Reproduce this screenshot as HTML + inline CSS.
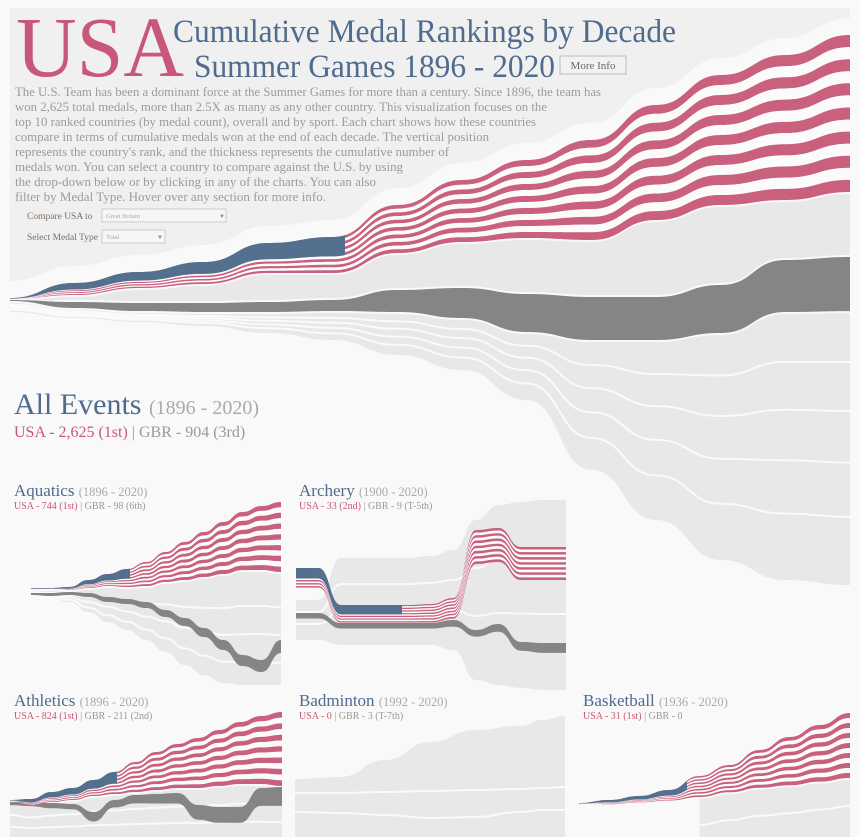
<!DOCTYPE html>
<html><head><meta charset="utf-8"><style>
html,body{margin:0;padding:0;background:#f9f9f9;}
svg{display:block;font-family:"Liberation Serif",serif;}
</style></head><body>
<svg id="s" width="860" height="837" viewBox="0 0 860 837" xmlns="http://www.w3.org/2000/svg">
<defs>
<clipPath id="cMain"><rect x="0" y="0" width="345" height="837"/></clipPath>
<clipPath id="cAq"><rect x="0" y="0" width="130" height="837"/></clipPath>
<clipPath id="cAr"><rect x="0" y="0" width="402" height="837"/></clipPath>
<clipPath id="cAt"><rect x="0" y="0" width="117" height="837"/></clipPath>
<clipPath id="cBk"><rect x="0" y="0" width="687" height="837"/></clipPath>
</defs>
<rect x="10" y="8" width="840" height="300" fill="#f0f0f0"/>
<g id="mainChart"></g>
<g id="panels"></g>
<g>
<text x="16" y="76" font-size="86" fill="#c8577a" textLength="168" lengthAdjust="spacingAndGlyphs">USA</text>
<text x="173" y="42" font-size="33" fill="#4f6b8d" textLength="503" lengthAdjust="spacingAndGlyphs">Cumulative Medal Rankings by Decade</text>
<text x="194" y="77" font-size="33" fill="#4f6b8d" textLength="361" lengthAdjust="spacingAndGlyphs">Summer Games 1896 - 2020</text>
<g>
<rect x="560" y="56" width="66" height="18" fill="#f2f2f2" stroke="#bbb"/>
<text x="593" y="69" font-size="11" fill="#666" text-anchor="middle">More Info</text>
</g>
<g font-size="13" fill="#9b9b9b">
<text x="15" y="96" textLength="586" lengthAdjust="spacingAndGlyphs">The U.S. Team has been a dominant force at the Summer Games for more than a century. Since 1896, the team has</text>
<text x="15" y="111" textLength="532" lengthAdjust="spacingAndGlyphs">won 2,625 total medals, more than 2.5X as many as any other country. This visualization focuses on the</text>
<text x="15" y="126" textLength="521" lengthAdjust="spacingAndGlyphs">top 10 ranked countries (by medal count), overall and by sport. Each chart shows how these countries</text>
<text x="15" y="141" textLength="474" lengthAdjust="spacingAndGlyphs">compare in terms of cumulative medals won at the end of each decade. The vertical position</text>
<text x="15" y="156" textLength="434" lengthAdjust="spacingAndGlyphs">represents the country's rank, and the thickness represents the cumulative number of</text>
<text x="15" y="171" textLength="388" lengthAdjust="spacingAndGlyphs">medals won. You can select a country to compare against the U.S. by using</text>
<text x="15" y="186" textLength="361" lengthAdjust="spacingAndGlyphs">the drop-down below or by clicking in any of the charts. You can also</text>
<text x="15" y="201" textLength="311" lengthAdjust="spacingAndGlyphs">filter by Medal Type. Hover over any section for more info.</text>
</g>
<text x="27" y="219" font-size="9.5" fill="#7d6f63">Compare USA to</text>
<g>
<rect x="102" y="209" width="124" height="13" fill="#f6f6f6" stroke="#ccc"/>
<text x="106" y="218" font-size="6.5" fill="#aaa">Great Britain</text>
<text x="219" y="218" font-size="6" fill="#888">▼</text>
</g>
<text x="27" y="240" font-size="9.5" fill="#7d6f63">Select Medal Type</text>
<g>
<rect x="102" y="230" width="63" height="13" fill="#f6f6f6" stroke="#ccc"/>
<text x="106" y="239" font-size="6.5" fill="#aaa">Total</text>
<text x="157" y="239" font-size="6" fill="#888">▼</text>
</g>
</g>
<g>
<text x="14" y="414" font-size="30" fill="#4f6b8d">All Events <tspan font-size="20" fill="#aaa">(1896 - 2020)</tspan></text>
<text x="14" y="437" font-size="16" fill="#c8577a">USA - 2,625 (1st) <tspan fill="#999">| GBR - 904 (3rd)</tspan></text>
</g>
</svg>
<script>
// ---------- main chart data (cumulative medals, stacked offsets in medal units) ----------
const mainDecades = [1890,1900,1910,1920,1930,1940,1950,1960,1970,1980,1990,2000,2010,2020];
const usaMedals = [17,200,268,368,502,602,803,1037,1304,1672,1923,2174,2425,2625];
const usaOffset = [33,284,468,635,953,1054,1589,2007,2341,2676,3261,3763,4097,4431];
const gbrMedals = [17,100,134,150,167,184,368,502,635,719,719,803,870,904];
const gbrOffset = [0,-33,-50,-50,-33,0,167,201,100,50,50,251,669,719];
const othersFloor = [-200,-300,-368,-435,-552,-669,-920,-1171,-1672,-2843,-3679,-4348,-4682,-4766];

// ---------- panel data ----------
const aqDecades = [1890,1900,1910,1920,1930,1940,1950,1960,1970,1980,1990,2000,2010,2020];
const aqUsaLevel = [588,588,587,580,574,569,562,552,542,532,522,512,506,502];
const aqUsaMedals = [11,11,32,85,128,191,255,319,404,478,553,617,680,744];
const aqGbrLevel = [593,593,592,593,597,599,602,610,618,628,640,655,660,640];
const aqGbrMedals = [21,32,32,43,53,53,64,74,85,96,106,117,128,138];
const aqFloor = [595,597,602,612,622,630,640,652,665,675,683,685,685,685];

const arDecades = [1900,1910,1920,1930,1940,1950,1960,1970,1980,1990,2000,2010,2020];
const arUsaLevel = [568,568,605,605,605,605,604,598,530,528,547,547,547];
const arUsaMedals = [19,19,17,17,17,17,18,20,33,33,32,32,32];
const arGbrLevel = [613,613,623,623,623,623,623,620,630,624,642,643,643];
const arGbrMedals = [5,5,5,5,5,5,5,6,6,7,8,9,9];
const arBgTop = [600,600,558,558,558,558,556,550,520,505,502,500,500];
const arBgBot = [640,640,645,645,645,645,645,650,680,685,688,690,690];

const atDecades = [1890,1900,1910,1920,1930,1940,1950,1960,1970,1980,1990,2000,2010,2020];
const atUsaLevel = [800,799,792,788,780,772,762,752,744,738,730,722,716,712];
const atUsaMedals = [11,67,111,134,178,245,334,423,490,557,623,690,757,824];
const atGbrLevel = [802,802,803,804,812,800,795,794,793,805,807,807,788,787];
const atGbrMedals = [35,47,59,59,106,82,94,106,117,164,176,176,199,211];

const bdDecades = [1960,1970,1980,1990,2000,2010,2015,2020];
const bdBgTop = [779,777,760,742,730,726,720,716];
const bdLine1 = [793,793,792,791,790,789,788,787];
const bdLine2 = [812,813,815,818,817,812,810,810];

const bkDecades = [1930,1940,1950,1960,1970,1980,1990,2000,2010,2020];
const bkUsaLevel = [803,800,796,790,776,765,750,737,725,713];
const bkUsaMedals = [0,2,3,5,10,13,18,23,27,31];

// ---------- helpers ----------
const NS = 'http://www.w3.org/2000/svg';
const RED = '#c8607e', BLUE = '#53708f', GRAY = '#858585', LIGHT = '#e8e8e8', BG = '#f9f9f9';
function scaleX(decades, x0, x1) {
  const a = decades[0], b = decades[decades.length - 1];
  return decades.map(d => x0 + (d - a) / (b - a) * (x1 - x0));
}
function curve(xs, ys, move) {
  let d = (move ? 'M' : 'L') + xs[0].toFixed(1) + ',' + ys[0].toFixed(1);
  for (let i = 0; i < xs.length - 1; i++) {
    const xm = ((xs[i] + xs[i + 1]) / 2).toFixed(1);
    d += ' C' + xm + ',' + ys[i].toFixed(1) + ' ' + xm + ',' + ys[i + 1].toFixed(1) + ' ' + xs[i + 1].toFixed(1) + ',' + ys[i + 1].toFixed(1);
  }
  return d;
}
function ribbonD(xs, top, bot) {
  const rx = xs.slice().reverse(), rb = bot.slice().reverse();
  return curve(xs, top, true) + ' ' + curve(rx, rb, false) + ' Z';
}
function addPath(parent, d, fill, name, stroke) {
  const p = document.createElementNS(NS, 'path');
  p.setAttribute('d', d);
  p.setAttribute('fill', fill);
  if (stroke) { p.setAttribute('stroke', stroke); p.setAttribute('stroke-width', '2'); }
  
  
  parent.appendChild(p);
  return p;
}
function addLine(parent, xs, ys, name) {
  const p = document.createElementNS(NS, 'path');
  p.setAttribute('d', curve(xs, ys, true));
  p.setAttribute('fill', 'none');
  p.setAttribute('stroke', '#fafafa');
  p.setAttribute('stroke-width', '2');
  
  
  parent.appendChild(p);
}
function drawFlag(parent, xs, tops, thick, clip, prefix) {
  const g = document.createElementNS(NS, 'g');
  
  
  parent.appendChild(g);
  for (let s = 0; s < 13; s++) {
    const t = tops.map((v, i) => v + thick[i] * s / 13);
    const b = tops.map((v, i) => v + thick[i] * (s + 1) / 13);
    addPath(g, ribbonD(xs, t, b), s % 2 === 0 ? RED : '#fbfbfb', prefix + '-flag-stripe');
  }
  const cb = tops.map((v, i) => v + thick[i] * 7 / 13);
  const c = addPath(g, ribbonD(xs, tops, cb), BLUE, prefix + '-flag-canton');
  c.setAttribute('clip-path', 'url(#' + clip + ')');
}
function band(parent, xs, tops, thick, fill, name) {
  const b = tops.map((v, i) => v + thick[i]);
  const g = document.createElementNS(NS, 'g');
  
  
  parent.appendChild(g);
  addPath(g, ribbonD(xs, tops, b), fill, name + '-shape');
}

// ---------- main chart ----------
(function () {
  const g = document.getElementById('mainChart');
  const K = 0.0598, BASE = 300;
  const xs = scaleX(mainDecades, 10, 850);
  const uTop = usaOffset.map(v => BASE - v * K);
  const uTh = usaMedals.map(v => v * K);
  const uBot = uTop.map((v, i) => v + uTh[i]);
  const gTop = gbrOffset.map(v => BASE - v * K);
  const gTh = gbrMedals.map(v => v * K);
  const gBot = gTop.map((v, i) => v + gTh[i]);
  const floor = othersFloor.map(v => BASE - v * K);
  // halo of page background below header
  addPath(g, ribbonD(xs, uTop.map(v => v - 17), xs.map(() => 600)), BG, 'header-edge');
  // other countries region
  addPath(g, ribbonD(xs, gBot.map(v => v + 2), floor), LIGHT, 'other-countries');
  [0.18, 0.36, 0.55, 0.75].forEach(f => {
    addLine(g, xs, gBot.map((v, i) => v + 2 + (floor[i] - v - 2) * f), 'other-country-gap');
  });
  // country between USA and GBR
  addPath(g, ribbonD(xs, uBot.map(v => v + 2), gTop.map((v, i) => Math.max(v - 2, uBot[i] + 2))), LIGHT, 'second-country-ribbon');
  band(g, xs, gTop, gTh, GRAY, 'main-gbr-ribbon');
  drawFlag(g, xs, uTop, uTh, 'cMain', 'main');
})();

// ---------- panels ----------
function panelTitle(parent, x, y, name, range, usaTxt, gbrTxt) {
  const t = document.createElementNS(NS, 'text');
  t.setAttribute('x', x); t.setAttribute('y', y);
  t.setAttribute('font-size', '17'); t.setAttribute('fill', '#4f6b8d');
  
  
  t.innerHTML = name + ' <tspan font-size="12.5" fill="#aaa">' + range + '</tspan>';
  parent.appendChild(t);
  const s = document.createElementNS(NS, 'text');
  s.setAttribute('x', x); s.setAttribute('y', y + 13);
  s.setAttribute('font-size', '10'); s.setAttribute('fill', '#c8577a');
  
  
  s.innerHTML = usaTxt + ' <tspan fill="#999">| ' + gbrTxt + '</tspan>';
  parent.appendChild(s);
}
function makePanel(name) {
  const g = document.createElementNS(NS, 'g');
  
  
  document.getElementById('panels').appendChild(g);
  return g;
}
// Aquatics
(function () {
  const g = makePanel('aquatics-panel');
  const k = 70 / 744;
  const xs = scaleX(aqDecades, 31, 281);
  const th = aqUsaMedals.map(v => v * k);
  const bot = aqUsaLevel.map((v, i) => v + th[i]);
  addPath(g, ribbonD(xs, bot.map(v => v + 2), aqFloor), LIGHT, 'aquatics-other-countries');
  [0.3, 0.55, 0.8].forEach(f => addLine(g, xs, bot.map((v, i) => v + 2 + (aqFloor[i] - v - 2) * f), 'aquatics-gap'));
  band(g, xs, aqGbrLevel, aqGbrMedals.map(v => v * k), GRAY, 'aquatics-gbr-ribbon');
  drawFlag(g, xs, aqUsaLevel, th, 'cAq', 'aquatics');
  panelTitle(g, 14, 496, 'Aquatics', '(1896 - 2020)', 'USA - 744 (1st)', 'GBR - 98 (6th)');
})();
// Archery
(function () {
  const g = makePanel('archery-panel');
  const k = 1.03;
  const xs = scaleX(arDecades, 296, 566);
  addPath(g, ribbonD(xs, arBgTop, arBgBot), LIGHT, 'archery-other-countries');
  [0.3, 0.6].forEach(f => addLine(g, xs, arBgTop.map((v, i) => v + (arBgBot[i] - v) * f), 'archery-gap'));
  band(g, xs, arGbrLevel, arGbrMedals.map(v => v * 1.1), GRAY, 'archery-gbr-ribbon');
  drawFlag(g, xs, arUsaLevel, arUsaMedals.map(v => v * k), 'cAr', 'archery');
  panelTitle(g, 299, 496, 'Archery', '(1900 - 2020)', 'USA - 33 (2nd)', 'GBR - 9 (T-5th)');
})();
// Athletics
(function () {
  const g = makePanel('athletics-panel');
  const k = 74 / 824;
  const xs = scaleX(atDecades, 10, 282);
  const th = atUsaMedals.map(v => v * k);
  const bot = atUsaLevel.map((v, i) => v + th[i]);
  addPath(g, ribbonD(xs, bot.map(v => v + 2), xs.map(() => 837)), LIGHT, 'athletics-other-countries');
  [0.35, 0.7].forEach(f => addLine(g, xs, bot.map(v => v + 2 + (837 - v - 2) * f), 'athletics-gap'));
  band(g, xs, atGbrLevel, atGbrMedals.map(v => v * k), GRAY, 'athletics-gbr-ribbon');
  drawFlag(g, xs, atUsaLevel, th, 'cAt', 'athletics');
  panelTitle(g, 14, 706, 'Athletics', '(1896 - 2020)', 'USA - 824 (1st)', 'GBR - 211 (2nd)');
})();
// Badminton
(function () {
  const g = makePanel('badminton-panel');
  const xs = scaleX(bdDecades, 295, 565);
  addPath(g, ribbonD(xs, bdBgTop, xs.map(() => 837)), LIGHT, 'badminton-countries');
  addLine(g, xs, bdLine1, 'badminton-gap');
  addLine(g, xs, bdLine2, 'badminton-gap');
  panelTitle(g, 299, 706, 'Badminton', '(1992 - 2020)', 'USA - 0', 'GBR - 3 (T-7th)');
})();
// Basketball
(function () {
  const g = makePanel('basketball-panel');
  const k = 65 / 31;
  const xs = scaleX(bkDecades, 579, 850);
  const th = bkUsaMedals.map(v => Math.max(v * k, 1));
  const bot = bkUsaLevel.map((v, i) => v + th[i]);
  addPath(g, ribbonD(xs.slice(4), bot.slice(4).map(v => v + 2), xs.slice(4).map(() => 837)), LIGHT, 'basketball-other-countries');
  addLine(g, xs.slice(4), bot.slice(4).map(v => v + 28), 'basketball-gap');
  drawFlag(g, xs, bkUsaLevel, th, 'cBk', 'basketball');
  panelTitle(g, 583, 706, 'Basketball', '(1936 - 2020)', 'USA - 31 (1st)', 'GBR - 0');
})();
</script>
</body></html>
